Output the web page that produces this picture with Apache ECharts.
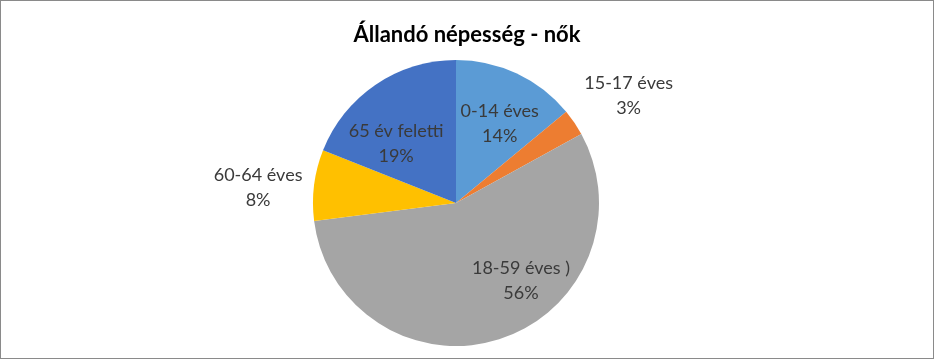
<!DOCTYPE html>
<html>
<head>
<meta charset="utf-8">
<script src="https://cdn.jsdelivr.net/npm/echarts@6/dist/echarts.min.js"></script>
<style>
html,body{margin:0;padding:0;background:#fff;}
#wrap{width:932px;height:357px;border:1px solid #8a8a8a;}
#chart{width:932px;height:357px;}
</style>
</head>
<body>
<div id="wrap"><div id="chart"></div></div>
<script>
const categories = ['0-14 éves', '15-17 éves', '18-59 éves )', '60-64 éves', '65 év feletti'];
const values = [14, 3, 56, 8, 19];
const colors = ['#5B9BD5', '#ED7D31', '#A5A5A5', '#FFC000', '#4472C4'];
const labelShift = [[12, -12], [111, -65], [42, 7], [-124, -6], [-18, 2]];

const chart = echarts.init(document.getElementById('chart'), null, {renderer: 'canvas'});
chart.setOption({
  animation: false,
  backgroundColor: '#fff',
  title: {
    text: 'Állandó népesség - nők',
    left: 'center',
    top: 18,
    textStyle: {fontFamily: 'Lato', fontWeight: 'bold', fontSize: 22, color: '#000'}
  },
  series: [{
    type: 'pie',
    center: [455, 202],
    radius: [0, 143],
    startAngle: 90,
    clockwise: true,
    silent: true,
    data: categories.map((c, i) => ({name: c, value: values[i], itemStyle: {color: colors[i]}})),
    label: {
      show: true,
      position: 'inside',
      formatter: p => p.name + '\n' + p.value + '%',
      fontFamily: 'Lato',
      fontSize: 18,
      lineHeight: 25,
      color: '#3a3a3a',
      align: 'center'
    },
    labelLine: {show: false},
    labelLayout: p => ({dx: labelShift[p.dataIndex][0], dy: labelShift[p.dataIndex][1]})
  }]
});
</script>
</body>
</html>
